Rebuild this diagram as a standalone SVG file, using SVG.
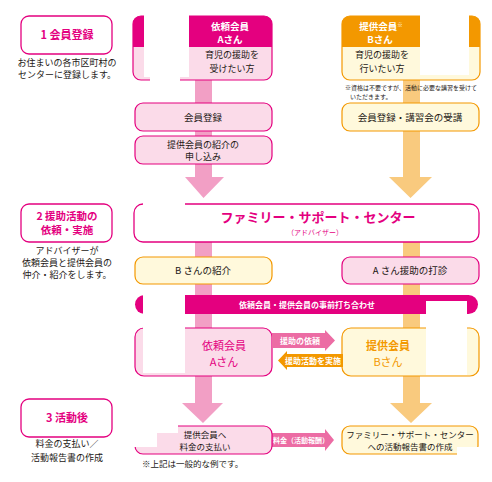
<svg xmlns="http://www.w3.org/2000/svg" width="492" height="482" viewBox="0 0 492 482">
<style>
text{font-family:"Noto Sans CJK JP","Noto Sans",sans-serif;fill:#231815;text-anchor:middle}
.b{font-weight:bold}
.mg{fill:#e4007f}
.wt{fill:#fff}
.or{fill:#f39800}
.step{fill:#fff;stroke:#e4007f;stroke-width:1.3}
.pk{fill:#fbdbe9;stroke:#e4007f;stroke-width:1.2}
.yl{fill:#fff9dc;stroke:#f39800;stroke-width:1.2}
.cover{fill:#fff}
</style>
<rect width="492" height="482" fill="#fff"/>

<g id="connectors">
  <path d="M195 80 V177 H185 L203.5 198 L224 177 H212 V80 Z" fill="#f29fc5"/>
  <path d="M403 80 V177 H389 L410.5 198 L432 177 H420 V80 Z" fill="#f9ca7e"/>
  <rect x="195" y="242" width="17" height="161" fill="#f29fc5"/>
  <path d="M195 376 V403 H182 L203 423 L223 403 H212 V376 Z" fill="#f29fc5"/>
  <rect x="403" y="242" width="17" height="161" fill="#f9ca7e"/>
  <path d="M403 376 V403 H390 L411 423 L432 403 H420 V376 Z" fill="#f9ca7e"/>
</g>

<g id="step1">
  <rect class="step" x="21" y="16" width="91" height="38" rx="8"/>
  <text class="b mg" x="67" y="39" font-size="11">1 会員登録</text>
  <text x="67" y="66" font-size="9">お住まいの各市区町村の</text>
  <text x="67" y="78" font-size="9">センターに登録します。</text>
</g>
<g id="step2">
  <rect class="step" x="21" y="204" width="91" height="38" rx="8"/>
  <text class="b mg" x="67" y="220" font-size="10.5">2 援助活動の</text>
  <text class="b mg" x="67" y="234" font-size="10.5">依頼・実施</text>
  <text x="67" y="254" font-size="9">アドバイザーが</text>
  <text x="67" y="266" font-size="9">依頼会員と提供会員の</text>
  <text x="67" y="278" font-size="9">仲介・紹介をします。</text>
</g>
<g id="step3">
  <rect class="step" x="21" y="399" width="91" height="38" rx="8"/>
  <text class="b mg" x="67" y="422" font-size="11">3 活動後</text>
  <text x="67" y="447" font-size="9">料金の支払い／</text>
  <text x="67" y="461" font-size="9">活動報告書の作成</text>
</g>

<g id="memberA">
  <rect x="133" y="16" width="139" height="64" rx="8" fill="#fbdbe9" stroke="#e4007f" stroke-width="1.2"/>
  <path d="M133 47 V24 A8 8 0 0 1 141 16 H264 A8 8 0 0 1 272 24 V47 Z" fill="#e4007f"/>
  <rect class="cover" x="144" y="14" width="45" height="63"/>
  <rect class="cover" x="150" y="76" width="30" height="6"/>
  <text class="b wt" x="230" y="29.5" font-size="9.5">依頼会員</text>
  <text class="b wt" x="230" y="43" font-size="9.5">Aさん</text>
  <text x="232" y="58" font-size="9">育児の援助を</text>
  <text x="232" y="72" font-size="9">受けたい方</text>
</g>

<g id="memberB">
  <rect x="342" y="16" width="138" height="64" rx="8" fill="#fff9dc" stroke="#f39800" stroke-width="1.2"/>
  <path d="M342 47 V24 A8 8 0 0 1 350 16 H472 A8 8 0 0 1 480 24 V47 Z" fill="#f39800"/>
  <rect class="cover" x="420" y="14" width="49" height="61"/>
  <text class="b wt" x="381" y="29.5" font-size="9.5">提供会員<tspan font-size="5.5" dy="-3">※</tspan></text>
  <text class="b wt" x="380" y="43" font-size="9.5">Bさん</text>
  <text x="382" y="58" font-size="9">育児の援助を</text>
  <text x="382" y="72" font-size="9">行いたい方</text>
</g>

<g id="noteB">
  <text x="345" y="90" font-size="6" style="text-anchor:start">※資格は不要ですが、活動に必要な講習を受けて</text>
  <text x="350" y="99" font-size="6" style="text-anchor:start">いただきます。</text>
</g>

<g id="registerA">
  <rect class="pk" x="135" y="103" width="137" height="28" rx="8"/>
  <text x="203" y="120.5" font-size="9.5">会員登録</text>
</g>
<g id="applyA">
  <rect class="pk" x="135" y="136" width="137" height="28" rx="8"/>
  <text x="203" y="148" font-size="9">提供会員の紹介の</text>
  <text x="203" y="160" font-size="9">申し込み</text>
</g>
<g id="registerB">
  <rect class="yl" x="342" y="103" width="137" height="28" rx="8"/>
  <text x="410" y="120.5" font-size="9.5">会員登録・講習会の受講</text>
</g>

<g id="center">
  <rect x="134" y="204" width="345" height="38" rx="9" fill="#fff" stroke="#e4007f" stroke-width="1.3"/>
  <rect class="cover" x="143" y="202" width="42" height="4"/>
  <text class="b mg" x="318" y="222" font-size="13">ファミリー・サポート・センター</text>
  <text class="mg" x="315" y="235" font-size="7">（アドバイザー）</text>
</g>

<g id="introB">
  <rect class="yl" x="135" y="257" width="137" height="27" rx="8"/>
  <text x="203" y="274" font-size="9.5">B さんの紹介</text>
</g>
<g id="askA">
  <rect class="pk" x="342" y="257" width="137" height="27" rx="8"/>
  <text x="410" y="274" font-size="9.5">A さん援助の打診</text>
</g>

<g id="meeting">
  <rect x="135" y="295" width="343" height="19" rx="9.5" fill="#e4007f"/>
  <text class="b wt" x="307" y="307.5" font-size="8">依頼会員・提供会員の事前打ち合わせ</text>
</g>

<g id="nodeA">
  <rect class="pk" x="135" y="328" width="137" height="48" rx="9"/>
  <text class="mg" x="224" y="350" font-size="11">依頼会員</text>
  <text class="mg" x="224" y="365.5" font-size="11">Aさん</text>
</g>
<g id="nodeB">
  <rect class="yl" x="342" y="328" width="137" height="48" rx="9"/>
  <text class="b or" x="388" y="350" font-size="11">提供会員</text>
  <text class="or" x="388" y="365.5" font-size="11">Bさん</text>
</g>

<g id="arrows">
  <path d="M272 333 H325 V330 L335 340.5 L325 351 V348 H272 Z" fill="#ec6ca4"/>
  <text class="b wt" x="300" y="344" font-size="8">援助の依頼</text>
  <path d="M343 354 H287 V351 L278 360.5 L287 370 V367 H343 Z" fill="#f39800"/>
  <text class="b wt" x="313" y="364" font-size="8">援助活動を実施</text>
  <path d="M272 433 H325 V429 L334 440 L325 451 V447 H272 Z" fill="#ec6ca4"/>
  <text class="b wt" x="301" y="443" font-size="7">料金（活動報酬）</text>
</g>

<g id="payA">
  <rect class="pk" x="135" y="426" width="137" height="28" rx="8"/>
  <path class="cover" d="M133 424 H178 V433 H157 V447 H133 Z"/>
  <text x="205" y="438" font-size="8.5">提供会員へ</text>
  <text x="205" y="449.5" font-size="8.5">料金の支払い</text>
</g>
<g id="reportB">
  <rect class="yl" x="342" y="426" width="136" height="28" rx="8"/>
  <rect class="cover" x="457" y="447" width="25" height="10"/>
  <text x="410" y="438" font-size="8.5">ファミリー・サポート・センター</text>
  <text x="410" y="449.5" font-size="8.5">への活動報告書の作成</text>
</g>

<g id="footnote">
  <text x="142" y="467" font-size="8.5" style="text-anchor:start">※上記は一般的な例です。</text>
</g>

<rect class="cover" x="143" y="295" width="42" height="78"/>
<rect class="cover" x="426" y="301" width="41" height="74"/>
</svg>
